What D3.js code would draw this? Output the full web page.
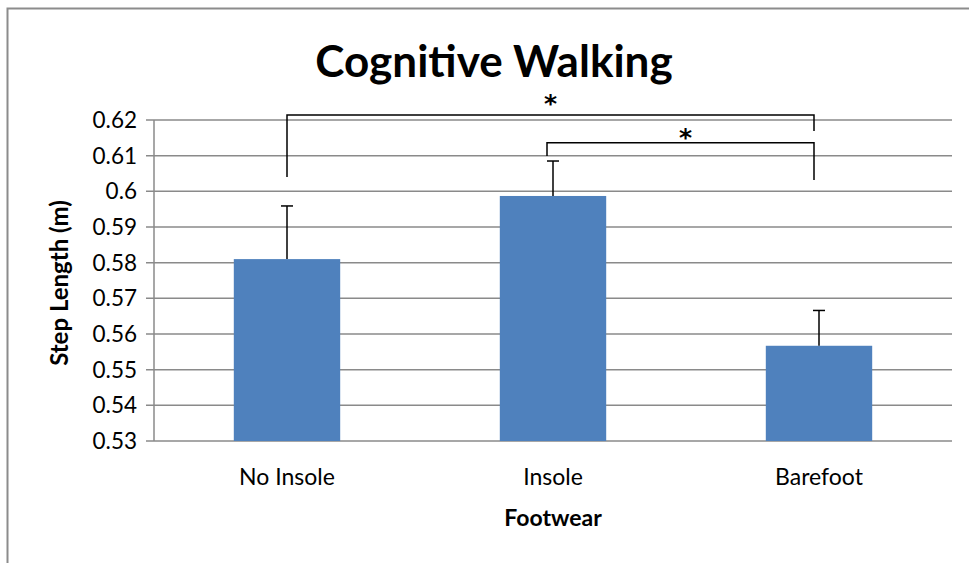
<!DOCTYPE html>
<html>
<head>
<meta charset="utf-8">
<script src="https://cdn.jsdelivr.net/npm/d3@7"></script>
<style>
  body { margin: 0; background: #fff; }
  svg { display: block; font-family: Lato, "Open Sans", sans-serif; }
</style>
</head>
<body>
<div id="wrap"></div>
<script>
var w = 969;
var h = 563;

var categories = ["No Insole", "Insole", "Barefoot"];
var stepLength = [0.581, 0.5987, 0.5567];
var errUpper = [0.5959, 0.6085, 0.5666];
var yTicks = [0.53, 0.54, 0.55, 0.56, 0.57, 0.58, 0.59, 0.6, 0.61, 0.62];

// significance brackets: from, to, bar height, left leg end, right leg end, star height
var brackets = [
  { from: "No Insole", to: "Barefoot", top: 0.6214, leftEnd: 0.604, rightEnd: 0.6169, star: 0.6262 },
  { from: "Insole", to: "Barefoot", top: 0.6136, leftEnd: 0.6099, rightEnd: 0.6032, star: 0.6166 }
];

var plotLeft = 154, plotRight = 952, plotTop = 120, plotBottom = 441;

var svg = d3.select("#wrap").append("svg").attr("width", w).attr("height", h);

// chart frame
svg.append("path")
  .attr("d", "M7.5," + h + "V8.5H" + w)
  .attr("fill", "none").attr("stroke", "#8c8c8c").attr("stroke-width", 2);

var x = d3.scaleBand().domain(categories).range([plotLeft, plotRight])
  .paddingInner(0.6).paddingOuter(0.3);
var y = d3.scaleLinear().domain([0.53, 0.62]).range([plotBottom, plotTop]);

// gridlines + ticks
svg.append("g").selectAll("line").data(yTicks).enter().append("line")
  .attr("x1", plotLeft - 8).attr("x2", plotRight)
  .attr("y1", function(d) { return y(d); })
  .attr("y2", function(d) { return y(d); })
  .attr("stroke", "#8a8a8a").attr("stroke-width", 1.5);

svg.append("line")
  .attr("x1", plotLeft).attr("x2", plotLeft).attr("y1", plotTop).attr("y2", plotBottom)
  .attr("stroke", "#8a8a8a").attr("stroke-width", 1.5);

svg.append("g").selectAll("text").data(yTicks).enter().append("text")
  .attr("x", plotLeft - 17)
  .attr("y", function(d) { return y(d); })
  .attr("dy", "0.36em")
  .attr("text-anchor", "end")
  .attr("font-size", 22.5)
  .text(function(d) { return String(+d.toFixed(2)); });

// bars
svg.append("g").selectAll("rect").data(stepLength).enter().append("rect")
  .attr("x", function(d, i) { return x(categories[i]); })
  .attr("y", function(d) { return y(d); })
  .attr("width", x.bandwidth())
  .attr("height", function(d) { return y(0.53) - y(d); })
  .attr("fill", "#4f81bd");

// error bars
var eb = svg.append("g").attr("stroke", "#000").attr("stroke-width", 1.5);
stepLength.forEach(function(d, i) {
  var cx = x(categories[i]) + x.bandwidth() / 2;
  eb.append("line").attr("x1", cx).attr("x2", cx).attr("y1", y(d)).attr("y2", y(errUpper[i]));
  eb.append("line").attr("x1", cx - 6).attr("x2", cx + 6).attr("y1", y(errUpper[i])).attr("y2", y(errUpper[i]));
});

// significance brackets
brackets.forEach(function(b, i) {
  var x1 = x(b.from) + x.bandwidth() / 2 - (i === 0 ? 0 : 6);
  var x2 = x(b.to) + x.bandwidth() / 2 - 5;
  svg.append("path")
    .attr("d", "M" + x1 + "," + y(b.leftEnd) + "V" + y(b.top) + "H" + x2 + "V" + y(b.rightEnd))
    .attr("fill", "none").attr("stroke", "#000").attr("stroke-width", 1.5);
  svg.append("text")
    .attr("x", (x1 + x2) / 2 + (i === 0 ? 0 : 5))
    .attr("y", y(b.star) + 14)
    .attr("text-anchor", "middle")
    .attr("font-family", "DejaVu Sans")
    .attr("font-weight", "bold")
    .attr("font-size", 25)
    .text("*");
});

// category labels
svg.append("g").selectAll("text").data(categories).enter().append("text")
  .attr("x", function(d) { return x(d) + x.bandwidth() / 2; })
  .attr("y", 485)
  .attr("text-anchor", "middle")
  .attr("font-size", 23)
  .text(function(d) { return d; });

// titles
svg.append("text")
  .attr("x", 494).attr("y", 77)
  .attr("text-anchor", "middle")
  .attr("font-size", 44).attr("font-weight", "bold")
  .text("Cognitive Walking");

svg.append("text")
  .attr("x", 553).attr("y", 526)
  .attr("text-anchor", "middle")
  .attr("font-size", 23).attr("font-weight", "bold")
  .text("Footwear");

svg.append("text")
  .attr("transform", "translate(68,283) rotate(-90)")
  .attr("text-anchor", "middle")
  .attr("font-size", 24).attr("font-weight", "bold")
  .text("Step Length (m)");
</script>
</body>
</html>
